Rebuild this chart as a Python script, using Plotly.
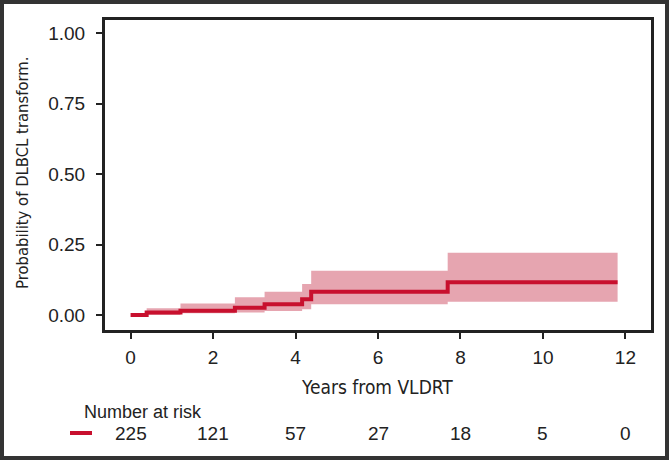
import plotly.graph_objects as go

# Step curve data (cumulative incidence of DLBCL transformation)
times = [0, 0.39, 1.21, 2.53, 3.25, 4.16, 4.38, 7.69, 11.81]
estimate = [0.0, 0.009, 0.015, 0.026, 0.038, 0.056, 0.083, 0.116, 0.116]
upper = [0.0, 0.024, 0.041, 0.063, 0.083, 0.110, 0.157, 0.221, 0.221]
lower = [0.0, 0.0, 0.006, 0.009, 0.014, 0.021, 0.038, 0.047, 0.047]

# Number at risk table
risk_times = [0, 2, 4, 6, 8, 10, 12]
risk_counts = [225, 121, 57, 27, 18, 5, 0]

x_ticks = [0, 2, 4, 6, 8, 10, 12]
y_ticks = [0.0, 0.25, 0.5, 0.75, 1.0]
y_tick_labels = ["0.00", "0.25", "0.50", "0.75", "1.00"]

LINE = "#C8102E"
BAND = "rgba(220,130,145,0.72)"
NARROW = "DejaVu Sans Condensed, Liberation Sans Narrow, Arial Narrow, sans-serif"
REG = "Liberation Sans, Arial, sans-serif"

fig = go.Figure()
fig.add_trace(go.Scatter(x=times, y=lower, mode="lines", line=dict(width=0, shape="hv"),
                         showlegend=False, hoverinfo="skip"))
fig.add_trace(go.Scatter(x=times, y=upper, mode="lines", line=dict(width=0, shape="hv"),
                         fill="tonexty", fillcolor=BAND, showlegend=False, hoverinfo="skip"))
fig.add_trace(go.Scatter(x=times, y=estimate, mode="lines", line=dict(color=LINE, width=4, shape="hv"),
                         showlegend=False))

L, R, T, B = 105, 18, 20, 130
W, H = 669, 460
pw, ph = W - L - R, H - T - B

def px_x(p):
    return (p - L) / pw

def px_y(p):
    return (H - B - p) / ph

fig.update_layout(
    width=W, height=H,
    margin=dict(l=L, r=R, t=T, b=B),
    paper_bgcolor="white", plot_bgcolor="white",
    showlegend=False,
    xaxis=dict(range=[-0.62, 12.62], tickvals=x_ticks, ticks="outside", ticklen=6, tickwidth=2,
               tickcolor="#222", showline=True, linewidth=3, linecolor="#222", mirror=True,
               showgrid=False, zeroline=False, ticklabelstandoff=2,
               tickfont=dict(family=REG, size=19, color="#222")),
    yaxis=dict(range=[-0.053, 1.047], tickvals=y_ticks, ticktext=y_tick_labels, ticks="outside",
               ticklen=6, tickwidth=2, tickcolor="#222", showline=True, linewidth=3,
               linecolor="#222", mirror=True, showgrid=False, zeroline=False,
               ticklabelstandoff=7,
               tickfont=dict(family=REG, size=19, color="#222")),
)

annotations = [
    dict(text="Years from VLDRT", xref="paper", yref="paper", x=px_x(377), y=px_y(387),
         showarrow=False, xanchor="center", yanchor="middle",
         font=dict(family=NARROW, size=19, color="#222")),
    dict(text="Probability of DLBCL transform.", xref="paper", yref="paper", x=px_x(22),
         y=px_y(173), textangle=-90, showarrow=False, xanchor="center", yanchor="middle",
         font=dict(family=NARROW, size=16.5, color="#222")),
    dict(text="Number at risk", xref="paper", yref="paper", x=px_x(82), y=px_y(412),
         showarrow=False, xanchor="left", yanchor="middle",
         font=dict(family=REG, size=18, color="#222")),
]
for t, c in zip(risk_times, risk_counts):
    annotations.append(dict(text=str(c), xref="x", yref="paper", x=t, y=px_y(433),
                            showarrow=False, xanchor="center", yanchor="middle",
                            font=dict(family=REG, size=19, color="#222")))
fig.update_layout(annotations=annotations)

fig.add_shape(type="line", xref="paper", yref="paper", x0=px_x(70), x1=px_x(92),
              y0=px_y(433), y1=px_y(433), line=dict(color=LINE, width=4))
fig.add_shape(type="rect", xref="paper", yref="paper", x0=px_x(2), x1=px_x(667),
              y0=px_y(2), y1=px_y(458), line=dict(color="#333", width=4), layer="above")

fig.write_html("out.html", config={"displayModeBar": False},
               post_script="document.body.style.margin='0';")
